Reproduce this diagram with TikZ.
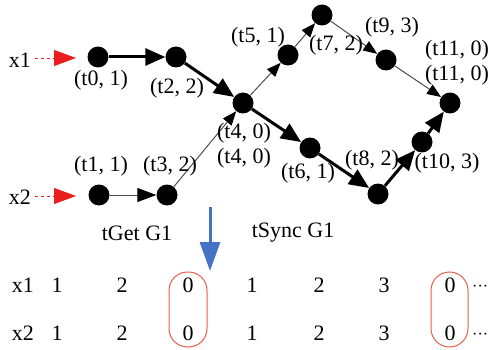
\documentclass[tikz,border=0pt]{standalone}
\usepackage{fontspec}
\setmainfont{Liberation Serif}
\usetikzlibrary{arrows.meta}
\definecolor{myred}{RGB}{235,30,30}
\definecolor{ovalred}{RGB}{225,95,75}
\definecolor{myblue}{RGB}{68,114,196}
\begin{document}
\begin{tikzpicture}[x=1pt,y=-1pt,
  dot/.style={circle,fill=black,inner sep=0pt,minimum size=21pt},
  lbl/.style={font=\fontsize{22}{24}\selectfont,inner sep=0pt},
  thin arrow/.style={draw=black!70,line width=1pt,-{Triangle[length=14pt,width=11pt,color=black]}},
  thick arrow/.style={draw=black,line width=3pt,-{Triangle[length=20pt,width=17pt]}},
  in arrow/.style={draw=myred,dashed,line width=0.8pt,-{Triangle[length=22pt,width=16pt,color=myred]}},
  oval/.style={draw=ovalred,line width=1pt,rounded corners=18.5pt}]
\useasboundingbox (0,0) rectangle (490,350);
% nodes
\node[dot] (t0) at (98,57) {};
\node[dot] (t2) at (176,57) {};
\node[dot] (t4) at (243,103) {};
\node[dot] (t1) at (99,195) {};
\node[dot] (t3) at (167,195) {};
\node[dot] (t5) at (288,55) {};
\node[dot] (t7) at (322,15) {};
\node[dot] (t9) at (386,60) {};
\node[dot] (t11) at (450,103) {};
\node[dot] (t6) at (310,148) {};
\node[dot] (t8) at (378,194) {};
\node[dot] (t10) at (422,142) {};
% inputs
\node[lbl] (x1) at (20,60) {x1};
\node[lbl] (x2) at (20,197) {x2};
\coordinate (x1s) at (35,58);
\coordinate (x1e) at (76,58);
\coordinate (x2s) at (35,196);
\coordinate (x2e) at (76,196);
\draw[in arrow] (x1s) -- (x1e);
\draw[in arrow] (x2s) -- (x2e);
% edges
\draw[thick arrow] (t0) -- (t2);
\draw[thick arrow] (t2) -- (t4);
\draw[thin arrow,-{Triangle[length=19pt,width=14pt,color=black]}] (t1) -- (t3);
\draw[thin arrow] (t3) -- (t4);
\draw[thin arrow] (t4) -- (t5);
\draw[thin arrow] (t5) -- (t7);
\draw[thin arrow] (t7) -- (t9);
\draw[thin arrow] (t9) -- (t11);
\draw[thick arrow] (t4) -- (t6);
\draw[thick arrow] (t6) -- (t8);
\draw[thick arrow] (t8) -- (t10);
\draw[thick arrow] (t10) -- (t11);
% labels
\node[lbl] (l0) at (101,80) {(t0, 1)};
\node[lbl] (l2) at (177,88) {(t2, 2)};
\node[lbl] (l4a) at (244,133) {(t4, 0)};
\node[lbl] (l4b) at (244,158) {(t4, 0)};
\node[lbl] (l1) at (101,166) {(t1, 1)};
\node[lbl] (l3) at (170,166) {(t3, 2)};
\node[lbl] (l5) at (258,37) {(t5, 1)};
\node[lbl] (l7) at (336,45) {(t7, 2)};
\node[lbl] (l9) at (392,27) {(t9, 3)};
\node[lbl] (l11a) at (457,50) {(t11, 0)};
\node[lbl] (l11b) at (457,75) {(t11, 0)};
\node[lbl] (l6) at (308,173) {(t6, 1)};
\node[lbl] (l8) at (372,160) {(t8, 2)};
\node[lbl] (l10) at (447,163) {(t10, 3)};
% blue arrow
\coordinate (bs) at (210,207);
\coordinate (be) at (210,271);
\draw[myblue,line width=3pt,-{Triangle[length=29pt,width=20pt]}] (bs) -- (be);
\node[lbl] (tget) at (137,233) {tGet G1};
\node[lbl] (tsync) at (293,233) {tSync G1};
% table
\node[lbl] (r1) at (23,285) {x1};
\node[lbl] (r2) at (23,333) {x2};
\foreach \xx/\v/\nm in {57/1/a,122/2/b,188/0/c,252/1/d,319/2/e,384/3/f,450/0/g}{
  \node[lbl] (r1\nm) at (\xx,285) {\v};
  \node[lbl] (r2\nm) at (\xx,333) {\v};
}
\node[lbl,font=\fontsize{16}{18}\selectfont,anchor=west] (d1) at (472,288) {\textperiodcentered\textperiodcentered\textperiodcentered};
\node[lbl,font=\fontsize{16}{18}\selectfont,anchor=west] (d2) at (472,336) {\textperiodcentered\textperiodcentered\textperiodcentered};
\draw[oval] (169,272) rectangle (207,347);
\draw[oval] (431,272) rectangle (468,347);
\end{tikzpicture}
\end{document}
